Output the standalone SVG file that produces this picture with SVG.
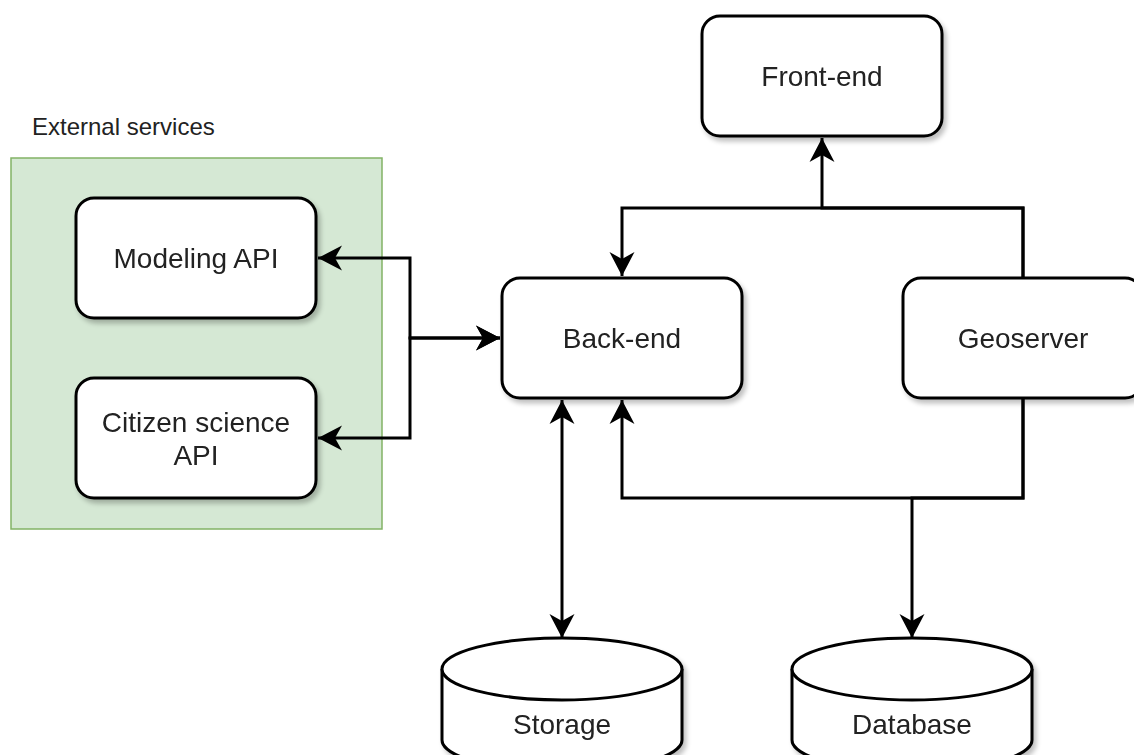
<svg xmlns="http://www.w3.org/2000/svg" width="1134" height="755" viewBox="0 0 1134 755">
  <style>
    .box { fill: #ffffff; stroke: #000000; stroke-width: 3; }
    .lbl { font-family: "Liberation Sans", Arial, sans-serif; font-size: 28px; fill: #222222; text-anchor: middle; }
    .title { font-family: "Liberation Sans", Arial, sans-serif; font-size: 24px; fill: #222222; }
    .edge { fill: none; stroke: #000000; stroke-width: 3; stroke-linejoin: miter; }
  </style>
  <defs>
    <filter id="shadow" x="-10%" y="-10%" width="130%" height="130%">
      <feGaussianBlur in="SourceAlpha" stdDeviation="2.5"/>
      <feOffset dx="3" dy="4" result="off"/>
      <feComponentTransfer><feFuncA type="linear" slope="0.25"/></feComponentTransfer>
      <feMerge><feMergeNode/><feMergeNode in="SourceGraphic"/></feMerge>
    </filter>
    <marker id="arrow" markerUnits="userSpaceOnUse" markerWidth="28" markerHeight="28" viewBox="-26 -14 28 28" refX="0" refY="0" orient="auto-start-reverse">
      <path d="M0,0 L-24,-12.5 L-17,0 L-24,12.5 Z" fill="#000000"/>
    </marker>
  </defs>

  <rect width="1134" height="755" fill="#ffffff"/>

  <!-- External services container -->
  <g id="external-services">
    <rect x="11" y="158" width="371" height="371" fill="#d5e8d4" stroke="#82b366" stroke-width="1.5"/>
    <text class="title" x="32" y="135">External services</text>
  </g>

  <!-- Connectors -->
  <g id="connectors">
    <path class="edge" d="M318,258 H410 V338 H500" marker-start="url(#arrow)" marker-end="url(#arrow)"/>
    <path class="edge" d="M318,438 H410 V338 H500" marker-start="url(#arrow)" marker-end="url(#arrow)"/>
    <path class="edge" d="M1023,278 V208 H822 V138" marker-end="url(#arrow)"/>
    <path class="edge" d="M1023,278 V208 H622 V276" marker-end="url(#arrow)"/>
    <path class="edge" d="M1023,398 V498 H622 V400" marker-end="url(#arrow)"/>
    <path class="edge" d="M1023,398 V498 H912 V638" marker-end="url(#arrow)"/>
    <path class="edge" d="M562,400 V638" marker-start="url(#arrow)" marker-end="url(#arrow)"/>
  </g>

  <g id="modeling-api" filter="url(#shadow)">
    <rect class="box" x="76" y="198" width="240" height="120" rx="18"/>
    <text class="lbl" x="196" y="268">Modeling API</text>
  </g>

  <g id="citizen-science-api" filter="url(#shadow)">
    <rect class="box" x="76" y="378" width="240" height="120" rx="18"/>
    <text class="lbl" x="196" y="432">Citizen science</text>
    <text class="lbl" x="196" y="465">API</text>
  </g>

  <g id="back-end" filter="url(#shadow)">
    <rect class="box" x="502" y="278" width="240" height="120" rx="18"/>
    <text class="lbl" x="622" y="348">Back-end</text>
  </g>

  <g id="front-end" filter="url(#shadow)">
    <rect class="box" x="702" y="16" width="240" height="120" rx="18"/>
    <text class="lbl" x="822" y="86">Front-end</text>
  </g>

  <g id="geoserver" filter="url(#shadow)">
    <rect class="box" x="903" y="278" width="240" height="120" rx="18"/>
    <text class="lbl" x="1023" y="348">Geoserver</text>
  </g>

  <g id="storage" filter="url(#shadow)">
    <path class="box" d="M442,669 A120,31 0 0 1 682,669 L682,740 A120,31 0 0 1 442,740 Z"/>
    <path class="box" d="M442,669 A120,31 0 0 0 682,669" fill="none"/>
    <text class="lbl" x="562" y="734">Storage</text>
  </g>

  <g id="database" filter="url(#shadow)">
    <path class="box" d="M792,669 A120,31 0 0 1 1032,669 L1032,740 A120,31 0 0 1 792,740 Z"/>
    <path class="box" d="M792,669 A120,31 0 0 0 1032,669" fill="none"/>
    <text class="lbl" x="912" y="734">Database</text>
  </g>
</svg>
